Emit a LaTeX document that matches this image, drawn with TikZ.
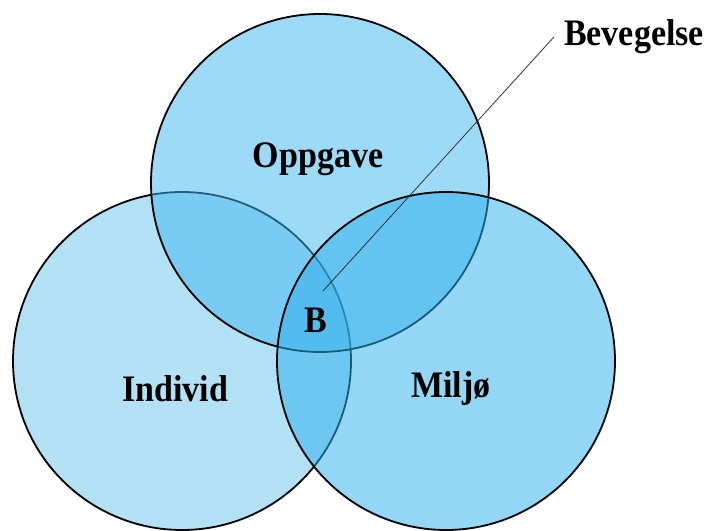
\documentclass[tikz,border=0pt]{standalone}
\usepackage{fontspec}
\setmainfont{Liberation Serif}
\definecolor{cleft}{RGB}{107,197,237}
\definecolor{ctop}{RGB}{68,184,240}
\definecolor{cright}{RGB}{48,176,236}
\begin{document}
\begin{tikzpicture}[x=1pt,y=-1pt,
  venn/.style={circle,draw=black,line width=1.8pt,fill opacity=0.52,minimum size=338pt,inner sep=0pt},
  lbl/.style={font=\fontsize{34}{34}\selectfont\bfseries,inner sep=0pt,yscale=1.1}]
\useasboundingbox (0,0) rectangle (709,530);
\node[venn,fill=cleft] (indiv) at (182,361) {};
\node[venn,fill=ctop] (oppg) at (320,183) {};
\node[venn,fill=cright] (milj) at (446,361) {};
\node[lbl] (toppl) at (318,159) {Oppgave};
\node[lbl] (leftl) at (175,389) {Individ};
\node[lbl] (rightl) at (451,389) {Miljø};
\node[lbl] (b) at (316,320) {B};
\node[lbl,inner xsep=10pt] (bev) at (634,37) {Bevegelse};
\coordinate (lineB) at (323,291);
\draw[line width=0.8pt,black!80] (lineB) -- (bev.west);
\end{tikzpicture}
\end{document}
